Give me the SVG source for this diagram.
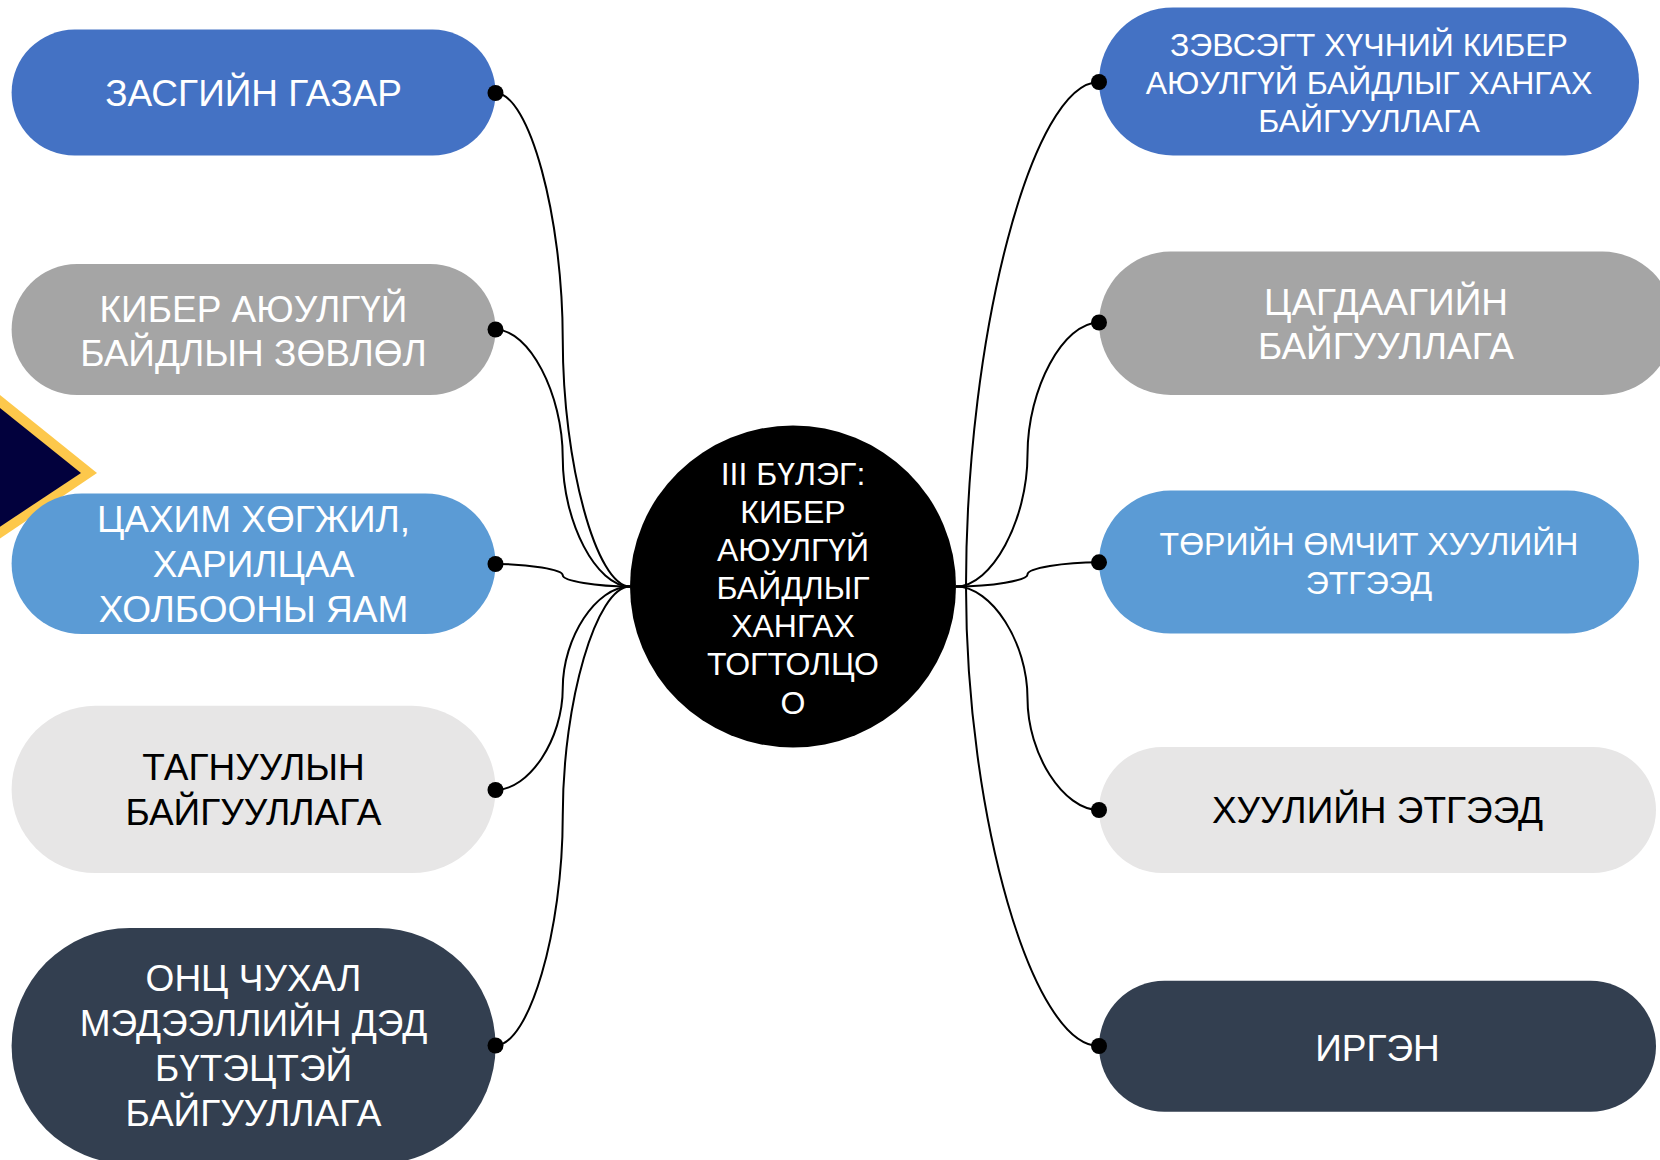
<svg xmlns="http://www.w3.org/2000/svg" width="1660" height="1160" viewBox="0 0 1660 1160">
<defs>
<style>
text{font-family:"Liberation Sans",Arial,"Noto Sans",sans-serif;text-anchor:middle}
.t37{font-size:37px}
.t32{font-size:32px}
.w{fill:#FFFFFF}
.k{fill:#000000}
.c1{fill:#4472C4}
.c2{fill:#A5A5A5}
.c3{fill:#5B9BD5}
.c4{fill:#E7E6E6}
.c5{fill:#333F50}
.conn path{fill:none;stroke:#000000;stroke-width:2}
.dot{fill:#000000}
</style>
</defs>
<rect width="1660" height="1160" fill="#FFFFFF"/>
<g id="decor">
<polygon points="97,473 -5,391 -5,542" fill="#FDC84B"/>
<polygon points="81,473 -5,404 -5,530" fill="#02013D"/>
</g>
<g id="n-l1"><rect class="c1" x="11.6" y="29.6" width="484" height="126" rx="63"/><text class="t37 w" x="253.5" y="106">ЗАСГИЙН ГАЗАР</text></g>
<g id="n-l2"><rect class="c2" x="11.6" y="264" width="484" height="131" rx="65.5"/><text class="t37 w" x="253.5" y="321.5">КИБЕР АЮУЛГҮЙ</text><text class="t37 w" x="253.5" y="366">БАЙДЛЫН ЗӨВЛӨЛ</text></g>
<g id="n-l3"><rect class="c3" x="11.6" y="493.5" width="484" height="140.5" rx="70.25"/><text class="t37 w" x="253.5" y="532">ЦАХИМ ХӨГЖИЛ,</text><text class="t37 w" x="253.5" y="577">ХАРИЛЦАА</text><text class="t37 w" x="253.5" y="622">ХОЛБООНЫ ЯАМ</text></g>
<g id="n-l4"><rect class="c4" x="11.6" y="705.8" width="484" height="167.2" rx="83.6"/><text class="t37 k" x="253.5" y="780">ТАГНУУЛЫН</text><text class="t37 k" x="253.5" y="825">БАЙГУУЛЛАГА</text></g>
<g id="n-l5"><rect class="c5" x="11.6" y="928" width="484" height="236" rx="118"/><text class="t37 w" x="253.5" y="991">ОНЦ ЧУХАЛ</text><text class="t37 w" x="253.5" y="1036">МЭДЭЭЛЛИЙН ДЭД</text><text class="t37 w" x="253.5" y="1081">БҮТЭЦТЭЙ</text><text class="t37 w" x="253.5" y="1126">БАЙГУУЛЛАГА</text></g>
<g id="n-r1"><rect class="c1" x="1099" y="7.4" width="540" height="148" rx="74"/><text class="t32 w" x="1369" y="55.5">ЗЭВСЭГТ ХҮЧНИЙ КИБЕР</text><text class="t32 w" x="1369" y="94">АЮУЛГҮЙ БАЙДЛЫГ ХАНГАХ</text><text class="t32 w" x="1369" y="131.5">БАЙГУУЛЛАГА</text></g>
<g id="n-r2"><rect class="c2" x="1099" y="251.6" width="575" height="143.4" rx="71.7"/><text class="t37 w" x="1386" y="314.5">ЦАГДААГИЙН</text><text class="t37 w" x="1386" y="359">БАЙГУУЛЛАГА</text></g>
<g id="n-r3"><rect class="c3" x="1099" y="490.6" width="540" height="143" rx="71.5"/><text class="t32 w" x="1369" y="555">ТӨРИЙН ӨМЧИТ ХУУЛИЙН</text><text class="t32 w" x="1369" y="594">ЭТГЭЭД</text></g>
<g id="n-r4"><rect class="c4" x="1099" y="747" width="557" height="126" rx="63"/><text class="t37 k" x="1377.5" y="823">ХУУЛИЙН ЭТГЭЭД</text></g>
<g id="n-r5"><rect class="c5" x="1099" y="980.7" width="557" height="131" rx="65.5"/><text class="t37 w" x="1377.5" y="1061">ИРГЭН</text></g>
<g id="connectors" class="conn">
<path d="M495.5,93 C529.1,93 562.75,216.4 562.75,339.75 C562.75,463.1 596.4,586.5 630,586.5"/>
<path d="M495.5,329.5 C529.1,329.5 562.75,393.75 562.75,458 C562.75,522.25 596.4,586.5 630,586.5"/>
<path d="M495.5,564 C529.1,564 562.75,569.6 562.75,575.25 C562.75,580.9 596.4,586.5 630,586.5"/>
<path d="M495.5,790 C529.1,790 562.75,739.1 562.75,688.25 C562.75,637.4 596.4,586.5 630,586.5"/>
<path d="M495.5,1045.5 C529.1,1045.5 562.75,930.75 562.75,816 C562.75,701.25 596.4,586.5 630,586.5"/>
<path d="M956,586.5 H966"/>
<path d="M1099,82 C1032.5,82 966,334.25 966,586.5"/>
<path d="M956,586.5 C991.75,586.5 1027.5,520.5 1027.5,454.5 C1027.5,388.5 1063.25,322.5 1099,322.5"/>
<path d="M956,586.5 C991.75,586.5 1027.5,580.45 1027.5,574.4 C1027.5,568.35 1063.25,562.3 1099,562.3"/>
<path d="M956,586.5 C991.75,586.5 1027.5,642.4 1027.5,698.25 C1027.5,754.1 1063.25,810 1099,810"/>
<path d="M1099,1046 C1032.5,1046 966,816.25 966,586.5"/>
</g>
<g id="n-center"><ellipse cx="793" cy="586.5" rx="163" ry="161" fill="#000000"/>
<text class="t32 w" x="793" y="484.5">III БҮЛЭГ:</text>
<text class="t32 w" x="793" y="522.7">КИБЕР</text>
<text class="t32 w" x="793" y="560.8">АЮУЛГҮЙ</text>
<text class="t32 w" x="793" y="599">БАЙДЛЫГ</text>
<text class="t32 w" x="793" y="637.2">ХАНГАХ</text>
<text class="t32 w" x="793" y="675.3">ТОГТОЛЦО</text>
<text class="t32 w" x="793" y="713.5">О</text>
</g>
<g id="dots">
<circle class="dot" cx="495.5" cy="93" r="8"/>
<circle class="dot" cx="495.5" cy="329.5" r="8"/>
<circle class="dot" cx="495.5" cy="564" r="8"/>
<circle class="dot" cx="495.5" cy="790" r="8"/>
<circle class="dot" cx="495.5" cy="1045.5" r="8"/>
<circle class="dot" cx="1099" cy="82" r="8"/>
<circle class="dot" cx="1099" cy="322.5" r="8"/>
<circle class="dot" cx="1099" cy="562.3" r="8"/>
<circle class="dot" cx="1099" cy="810" r="8"/>
<circle class="dot" cx="1099" cy="1046" r="8"/>
</g>
</svg>
